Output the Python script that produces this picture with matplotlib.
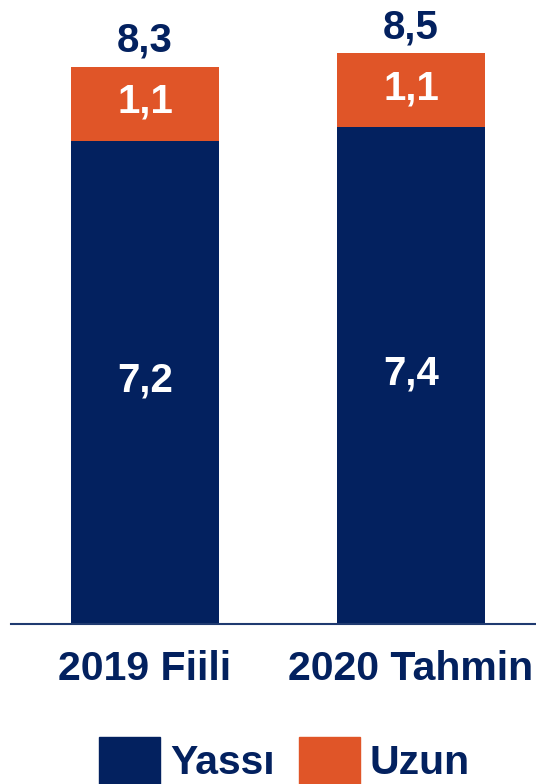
import matplotlib
matplotlib.use("Agg")
import matplotlib.pyplot as plt
from matplotlib.patches import Patch

categories = ["2019 Fiili", "2020 Tahmin"]
yassi = [7.2, 7.4]
uzun = [1.1, 1.1]
totals = [8.3, 8.5]
series_names = ["Yassı", "Uzun"]

NAVY = "#03215F"
ORANGE = "#E05528"

plt.rcParams['font.family'] = ['Liberation Sans', 'DejaVu Sans']
plt.rcParams['font.weight'] = 'bold'

W, H = 536, 784
fig = plt.figure(figsize=(W / 100, H / 100), dpi=100)
ax = fig.add_axes([11 / W, 160 / H, 525 / W, 624 / H])

x = list(range(len(categories)))
bw = 148 / 266
ax.bar(x, yassi, width=bw, color=NAVY, label=series_names[0])
ax.bar(x, uzun, width=bw, bottom=yassi, color=ORANGE, label=series_names[1])

ax.set_xlim(-134 / 266, 1 + 125 / 266)
ax.set_ylim(0, 624 / 67.15)

for s in ["top", "right", "left"]:
    ax.spines[s].set_visible(False)
ax.spines["bottom"].set_color("#1F3A70")
ax.spines["bottom"].set_linewidth(1.5)
ax.set_yticks([])
ax.set_xticks(x)
ax.set_xticklabels(categories, fontsize=29.5, fontweight='bold', color=NAVY)
ax.tick_params(axis='x', length=0, pad=18.5)

FS = 29
for i in x:
    ax.annotate(f"{yassi[i]:.1f}".replace(".", ","), (i, yassi[i] / 2), xytext=(0, 1.5),
                textcoords='offset points', ha='center', va='center',
                color='white', fontsize=FS, fontweight='bold')
    ax.annotate(f"{uzun[i]:.1f}".replace(".", ","), (i, yassi[i] + uzun[i] / 2), xytext=(0, 1.5),
                textcoords='offset points', ha='center', va='center',
                color='white', fontsize=FS, fontweight='bold')
    ax.annotate(f"{totals[i]:.1f}".replace(".", ","), (i, totals[i]), xytext=(0, 10.8),
                textcoords='offset points', ha='center', va='baseline',
                color=NAVY, fontsize=FS, fontweight='bold')

handles = [Patch(color=NAVY), Patch(color=ORANGE)]
leg = fig.legend(handles, series_names, loc='upper left', bbox_to_anchor=(99 / W, 1 - 737 / H),
                 ncol=2, frameon=False, fontsize=29.5, handlelength=1.49, handleheight=1.4,
                 handletextpad=0.24, columnspacing=0.6, borderaxespad=0, borderpad=0)
for t in leg.get_texts():
    t.set_color(NAVY)
    t.set_fontweight('bold')

fig.savefig("out.png", dpi=100)
